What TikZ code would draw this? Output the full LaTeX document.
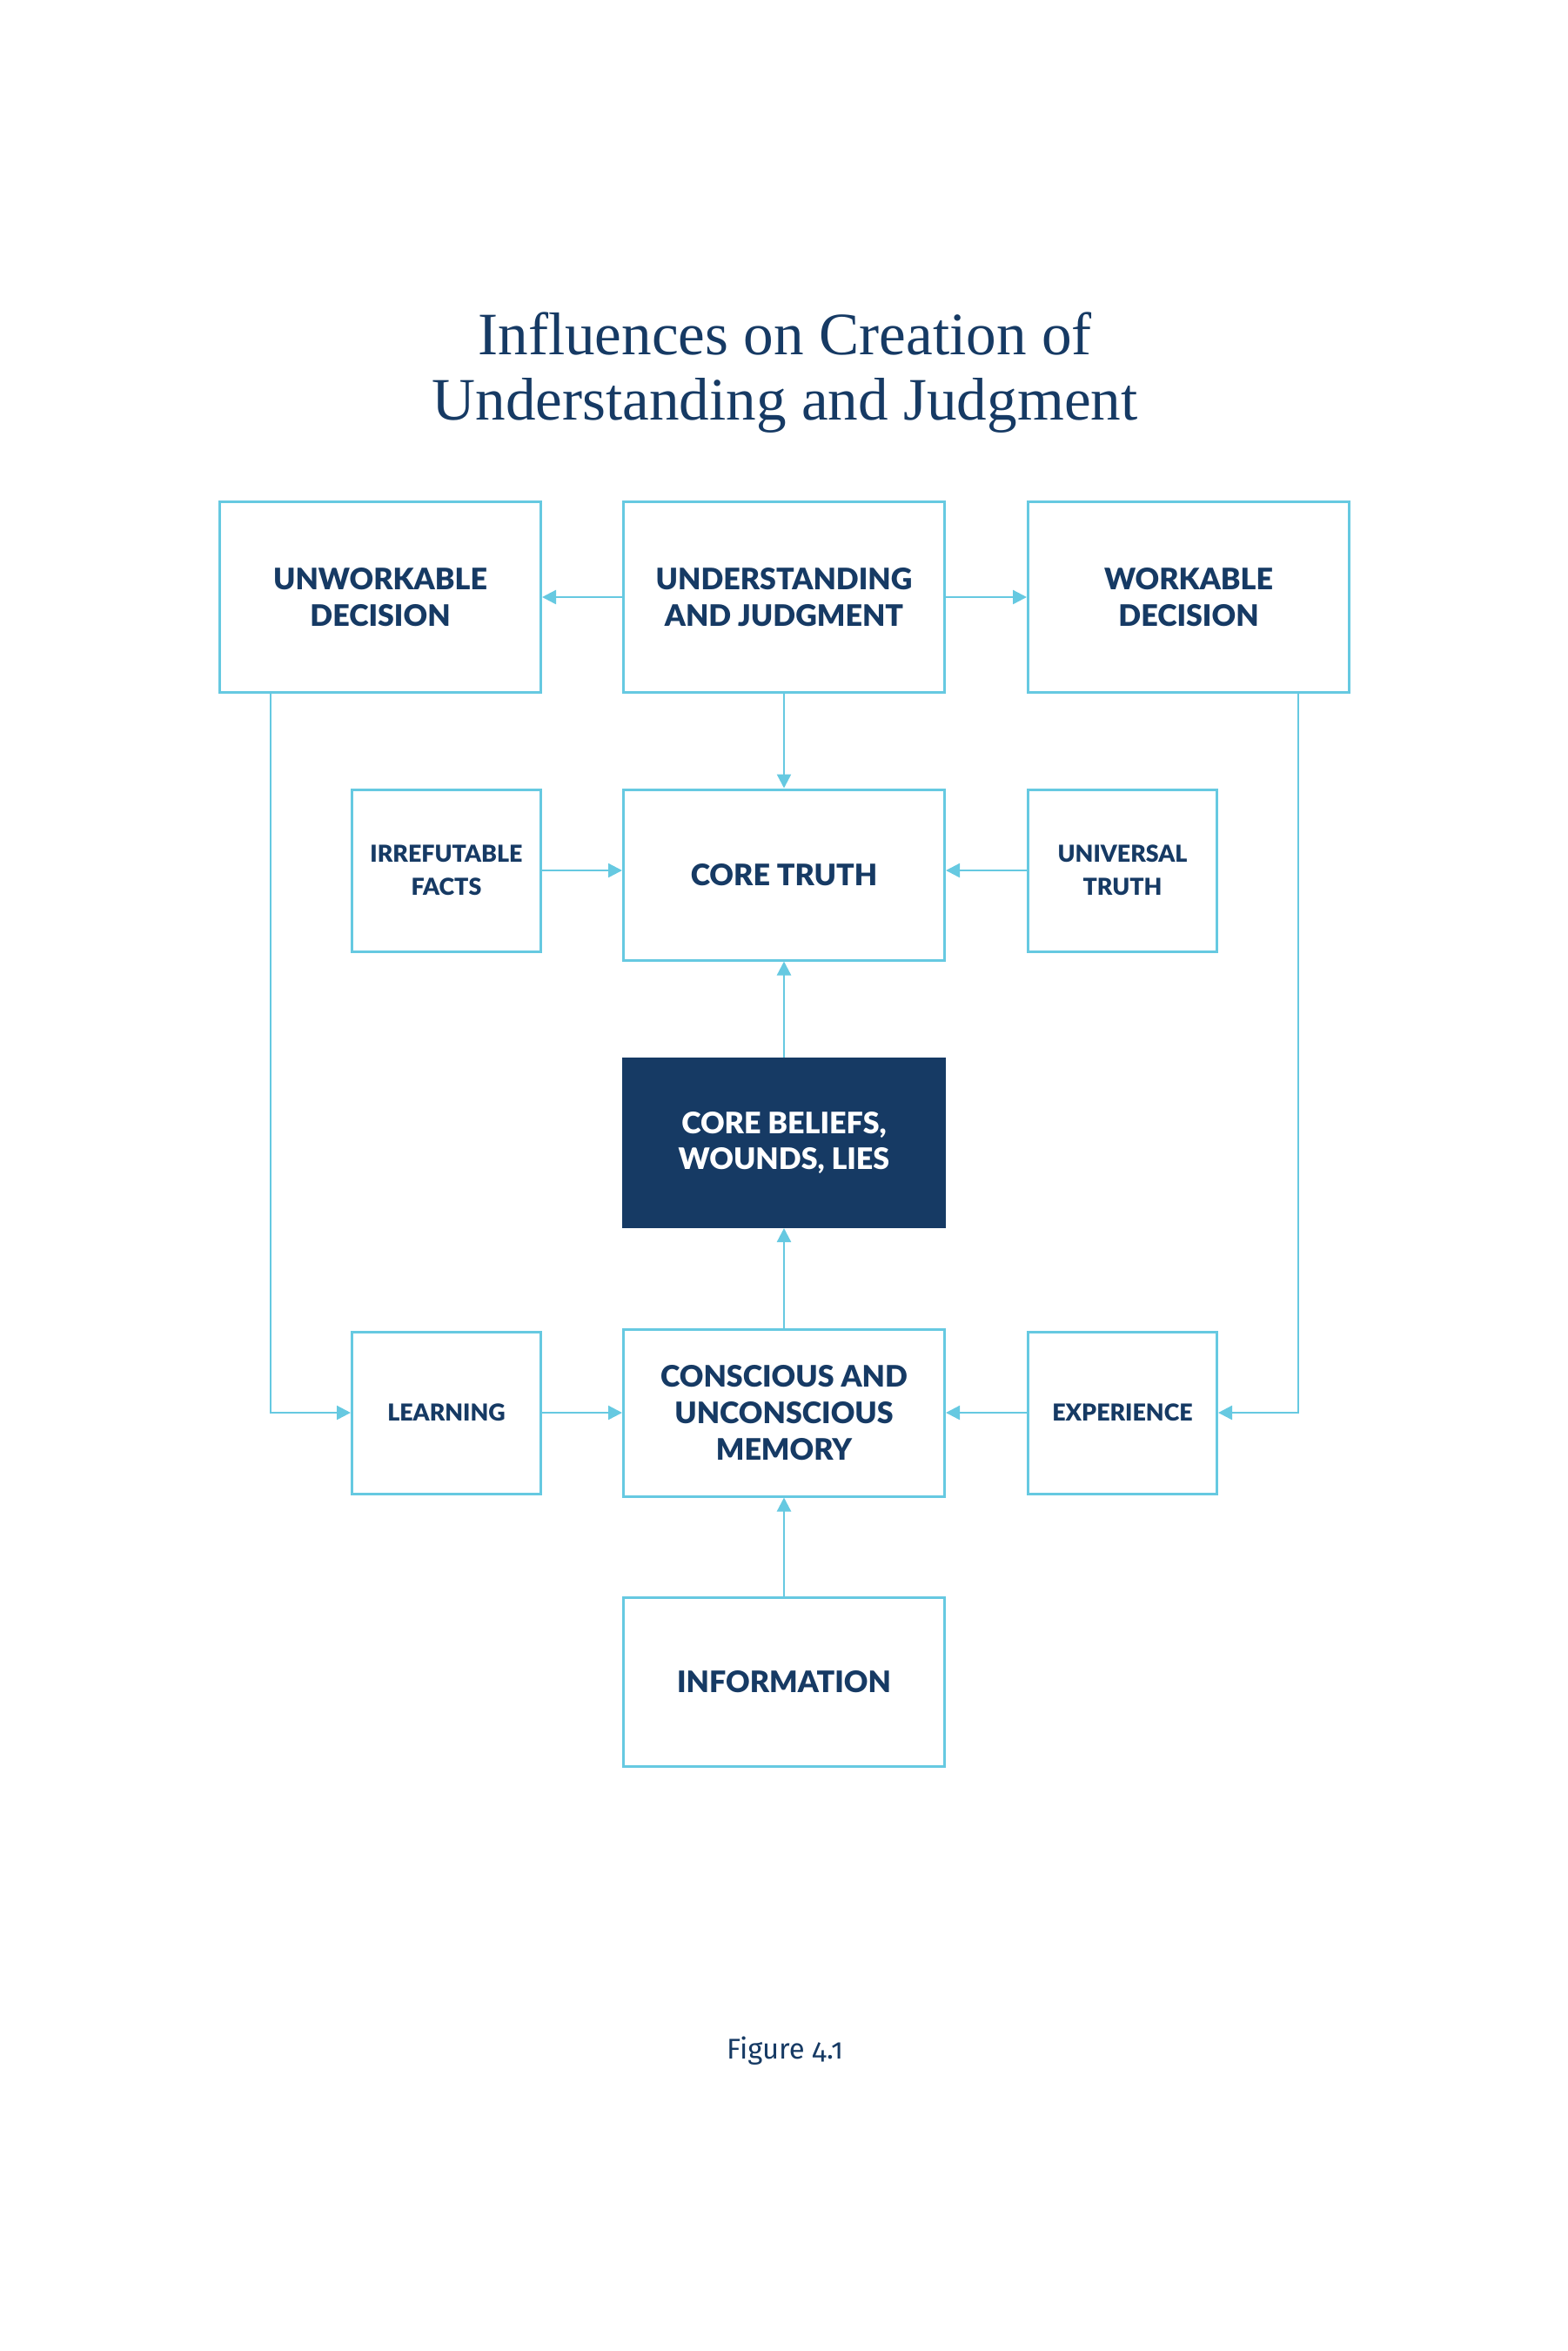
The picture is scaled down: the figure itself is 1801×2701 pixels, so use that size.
\documentclass[tikz,border=0pt]{standalone}
\usepackage{fontspec}
\usetikzlibrary{arrows.meta}
\newfontfamily\titlefont{Liberation Serif}
\newfontfamily\boxfont{Lato}[BoldFont={Lato Black}]
\newfontfamily\capfont{Fira Sans}[Numbers=OldStyle]
\definecolor{navy}{HTML}{163A64}
\definecolor{sky}{HTML}{66C9E1}
\tikzset{
  box/.style={draw=sky, line width=0.75pt, fill=white, align=center, text=navy,
    font=\boxfont\bfseries\fontsize{8.5}{10.4}\selectfont, inner sep=0pt},
  bigbox/.style={box, minimum width=92.25pt},
  smallbox/.style={box, minimum width=54.25pt, minimum height=46.5pt,
    font=\boxfont\bfseries\fontsize{6.7}{9.5}\selectfont},
  darkbox/.style={bigbox, fill=navy, draw=navy, text=white},
  conn/.style={draw=sky, line width=0.6pt},
  arr/.style={conn, -{Triangle[length=4pt,width=4pt]}},
}
\begin{document}
\begin{tikzpicture}[x=0.25pt,y=-0.25pt]
\useasboundingbox (0,0) rectangle (1801,2701);
\node[font=\titlefont\fontsize{17.3}{18.9}\selectfont, text=navy, align=center] (title) at (902,428)
  {Influences on Creation of\\Understanding and Judgment};

\node[bigbox, minimum height=54.75pt] (unw) at (437,686) {UNWORKABLE\\DECISION};
\node[bigbox, minimum height=54.75pt] (uj) at (901,686) {UNDERSTANDING\\AND JUDGMENT};
\node[bigbox, minimum height=54.75pt] (wd) at (1366,686) {WORKABLE\\DECISION};

\node[bigbox, minimum height=49pt] (ct) at (901,1005) {CORE TRUTH};
\node[smallbox] (irr) at (513,1000) {IRREFUTABLE\\FACTS};
\node[smallbox] (univ) at (1290,1000) {UNIVERSAL\\TRUTH};

\node[darkbox, minimum height=48.25pt] (cb) at (901,1313) {CORE BELIEFS,\\WOUNDS, LIES};

\node[bigbox, minimum height=48pt] (mem) at (901,1623) {CONSCIOUS AND\\UNCONSCIOUS\\MEMORY};
\node[smallbox] (learn) at (513,1623) {LEARNING};
\node[smallbox] (exp) at (1290,1623) {EXPERIENCE};

\node[bigbox, minimum height=48.5pt] (info) at (901,1932) {INFORMATION};

\node[font=\capfont\fontsize{8.2}{10}\selectfont, text=navy] (cap) at (902,2356) {Figure 4.1};

\draw[arr] (uj.west) -- (unw.east);
\draw[arr] (uj.east) -- (wd.west);
\draw[arr] (uj.south) -- (ct.north);
\draw[arr] (irr.east) -- (irr.east -| ct.west);
\draw[arr] (univ.west) -- (univ.west -| ct.east);
\draw[arr] (cb.north) -- (ct.south);
\draw[arr] (mem.north) -- (cb.south);
\draw[arr] (learn.east) -- (mem.west);
\draw[arr] (exp.west) -- (mem.east);
\draw[arr] (info.north) -- (mem.south);
\coordinate (lc) at (311,1623);
\coordinate (rc) at (1492,1623);
\draw[arr] (unw.south -| lc) -- (lc) -- (learn.west);
\draw[arr] (wd.south -| rc) -- (rc) -- (exp.east);
\end{tikzpicture}
\end{document}
